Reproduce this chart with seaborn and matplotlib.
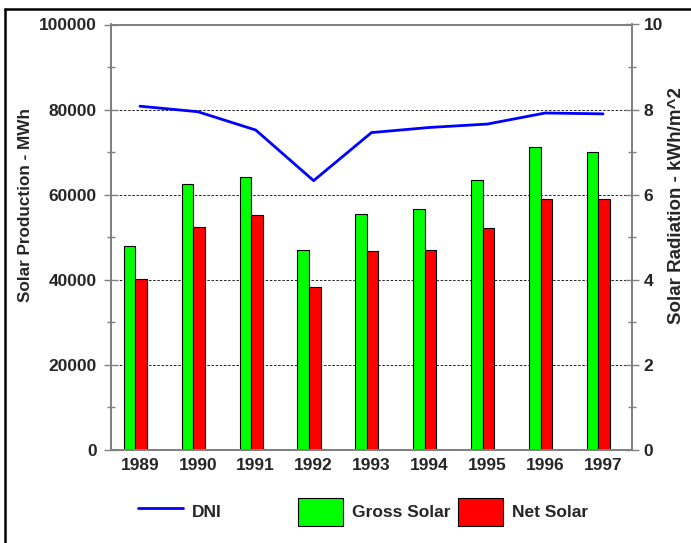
import numpy as np
import pandas as pd
import seaborn as sns
import matplotlib.pyplot as plt
from matplotlib.patches import Patch
from matplotlib.lines import Line2D
from matplotlib.ticker import MultipleLocator

years = ['1989', '1990', '1991', '1992', '1993', '1994', '1995', '1996', '1997']
gross_solar = [47900, 62600, 64100, 47000, 55500, 56700, 63500, 71300, 70000]
net_solar = [40100, 52400, 55200, 38400, 46800, 47000, 52200, 58900, 58900]
dni = [8.08, 7.95, 7.52, 6.33, 7.46, 7.58, 7.66, 7.92, 7.90]
series_names = ['Gross Solar', 'Net Solar']
bar_colors = ['#00ff00', '#ff0000']

sns.set_style('white')
plt.rcParams['font.family'] = ['Liberation Sans', 'DejaVu Sans']
plt.rcParams['font.weight'] = 'bold'

df = pd.DataFrame({
    'year': years * 2,
    'value': gross_solar + net_solar,
    'series': [series_names[0]] * len(years) + [series_names[1]] * len(years),
})

fig = plt.figure(figsize=(6.91, 5.43), dpi=100)
ax = fig.add_axes([111 / 691, 1 - 450 / 543, 521 / 691, 425.5 / 543])

sns.barplot(data=df, x='year', y='value', hue='series', palette=bar_colors,
            width=0.4, saturation=1, edgecolor='black', linewidth=0.8,
            legend=False, ax=ax)
# bars sit a little left of the category centre in the original
for p in ax.patches:
    p.set_x(p.get_x() - 0.08)

ax2 = ax.twinx()
sns.lineplot(x=np.arange(len(years)), y=dni, color='#0000ff', linewidth=2, ax=ax2)

ax.set_xlim(-0.5, len(years) - 0.5)
ax.set_ylim(0, 100000)
ax2.set_ylim(0, 10)

gray = '#808080'
for a in (ax, ax2):
    for s in a.spines.values():
        s.set_color(gray)
        s.set_linewidth(1.3)

ax.yaxis.set_major_locator(MultipleLocator(20000))
ax.yaxis.set_minor_locator(MultipleLocator(10000))
ax2.yaxis.set_major_locator(MultipleLocator(2))
ax2.yaxis.set_minor_locator(MultipleLocator(1))
ax.xaxis.set_minor_locator(MultipleLocator(1, offset=0.5))

fs = 12.5
ax.tick_params(axis='x', which='major', length=0, pad=6, labelsize=fs)
ax.tick_params(axis='x', which='minor', direction='inout', length=10, color=gray, width=1)
ax.tick_params(axis='y', which='major', direction='inout', length=10.5, color=gray, width=1,
               pad=5, labelsize=fs, left=True)
ax.tick_params(axis='y', which='minor', direction='inout', length=6, color=gray, width=1, left=True)
ax2.tick_params(axis='y', which='major', direction='inout', length=10.5, color=gray, width=1,
                pad=3, labelsize=fs, right=True)
ax2.tick_params(axis='y', which='minor', direction='inout', length=6, color=gray, width=1, right=True)

ax.yaxis.grid(True, which='major', linestyle=(0, (3, 2)), color='black', linewidth=0.6)
ax.set_axisbelow(True)

ax.set_xlabel('')
ax.set_ylabel('Solar Production - MWh', fontsize=12.3, fontweight='bold')
ax2.set_ylabel('Solar Radiation - kWh/m^2', fontsize=13.5, fontweight='bold')
ax.yaxis.set_label_coords(-0.164, 0.575)
ax.yaxis.label.set_va('center')
ax2.yaxis.set_label_coords(1.085, 0.575)
ax2.yaxis.label.set_va('center')

# legend: three entries on an even pitch under the chart
entries = [
    Line2D([0], [0], color='#0000ff', linewidth=2),
    Patch(facecolor=bar_colors[0], edgecolor='black', linewidth=0.8),
    Patch(facecolor=bar_colors[1], edgecolor='black', linewidth=0.8),
]
labels = ['DNI'] + series_names
for i, (h, lab) in enumerate(zip(entries, labels)):
    fig.legend([h], [lab], loc='center left', bbox_to_anchor=((138 + 160 * i) / 691, 1 - 512 / 543),
               frameon=False, borderpad=0, borderaxespad=0, fontsize=fs,
               handlelength=2.6, handleheight=2.05, handletextpad=0.5)

# outer frame: only the left and top edges fall inside the picture
fig.add_artist(Line2D([5.5 / 691, 5.5 / 691], [-0.1, 1 - 9 / 543], transform=fig.transFigure,
                      color='black', linewidth=1.8))
fig.add_artist(Line2D([5.5 / 691, 1.1], [1 - 9 / 543, 1 - 9 / 543], transform=fig.transFigure,
                      color='black', linewidth=1.8))

fig.savefig('out.png', dpi=100)
